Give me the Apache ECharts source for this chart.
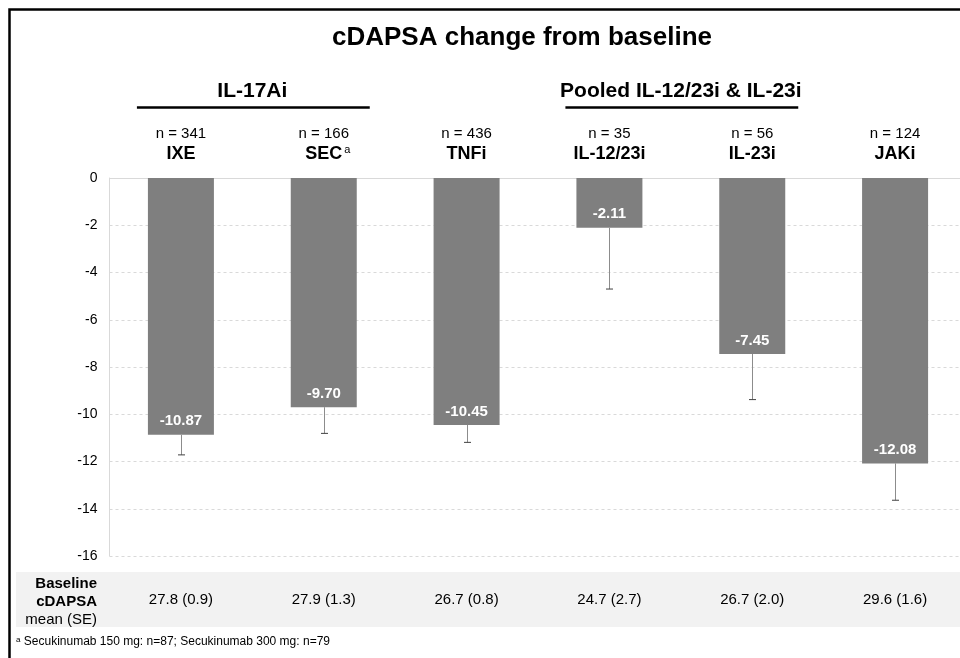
<!DOCTYPE html>
<html>
<head>
<meta charset="utf-8">
<script src="https://cdn.jsdelivr.net/npm/echarts@6/dist/echarts.min.js"></script>
<style>
  html, body { margin: 0; padding: 0; background: #fff; }
  #main { width: 960px; height: 658px; }
</style>
</head>
<body>
<div id="main"></div>
<script>
var FONT = 'Liberation Sans, Arial, sans-serif'

// data
var categories = ['IXE', 'SEC', 'TNFi', 'IL-12/23i', 'IL-23i', 'JAKi']
var sups = ['', 'a', '', '', '', '']
var nCounts = [341, 166, 436, 35, 56, 124]
var meanChange = [-10.87, -9.70, -10.45, -2.11, -7.45, -12.08]
var errorLow = [-11.72, -10.81, -11.19, -4.70, -9.38, -13.64]
var baseline = ['27.8 (0.9)', '27.9 (1.3)', '26.7 (0.8)', '24.7 (2.7)', '26.7 (2.0)', '29.6 (1.6)']
var yTicks = [0, -2, -4, -6, -8, -10, -12, -14, -16]
var groups = [
  { name: 'IL-17Ai', from: 0, to: 1 },
  { name: 'Pooled IL-12/23i & IL-23i', from: 3, to: 4 }
]

var chart = echarts.init(document.getElementById('main'))

var option = {
  animation: false,
  textStyle: { fontFamily: FONT },
  grid: { left: 109.5, width: 857, top: 178, height: 378, outerBoundsMode: 'none', containLabel: false },
  xAxis: [
    {
      type: 'category',
      position: 'top',
      data: categories,
      axisLine: { show: true, lineStyle: { color: '#d9d9d9', width: 1 } },
      axisTick: { show: false },
      axisLabel: {
        margin: 14,
        formatter: function (v, i) {
          var s = '{n|n = ' + nCounts[i] + '}\n'
          if (sups[i]) return s + '{sp|}{b|' + v + '}{sup|' + sups[i] + '}'
          return s + '{b|' + v + '}'
        },
        rich: {
          n: { fontSize: 15, color: '#000', lineHeight: 20, fontFamily: FONT },
          b: { fontSize: 18, fontWeight: 'bold', color: '#000', lineHeight: 20, fontFamily: FONT },
          sup: { fontSize: 11, color: '#000', verticalAlign: 'top', lineHeight: 20, padding: [0, 0, 6, 2], fontFamily: FONT },
          sp: { width: 8 }
        }
      }
    },
    {
      type: 'category',
      position: 'bottom',
      data: categories,
      axisLine: { show: false },
      axisTick: { show: false },
      axisLabel: {
        margin: 36,
        fontSize: 15,
        color: '#000',
        fontFamily: FONT,
        formatter: function (v, i) { return baseline[i] }
      }
    }
  ],
  yAxis: {
    type: 'value',
    min: -16,
    max: 0,
    interval: 2,
    axisLine: { show: true, lineStyle: { color: '#d9d9d9', width: 1 } },
    axisTick: { show: false },
    axisLabel: {
      margin: 12,
      fontSize: 14,
      color: '#000',
      fontFamily: FONT,
      customValues: yTicks
    },
    splitLine: { show: true, lineStyle: { color: '#d9d9d9', type: [3, 3], width: 1 } }
  },
  series: [
    {
      type: 'bar',
      xAxisIndex: 0,
      data: meanChange,
      barWidth: 66,
      itemStyle: { color: '#7f7f7f' },
      label: {
        show: true,
        position: 'insideBottom',
        distance: 6,
        color: '#fff',
        fontSize: 15,
        fontWeight: 'bold',
        fontFamily: FONT,
        formatter: function (p) { return p.value.toFixed(2) }
      },
      z: 2
    },
    {
      type: 'custom',
      xAxisIndex: 0,
      data: categories.map(function (c, i) { return [i, meanChange[i], errorLow[i]] }),
      z: 3,
      renderItem: function (params, api) {
        var top = api.coord([api.value(0), api.value(1)])
        var low = api.coord([api.value(0), api.value(2)])
        var x = Math.round(top[0]) + 0.5
        return {
          type: 'group',
          children: [
            { type: 'line', shape: { x1: x, y1: top[1], x2: x, y2: low[1] }, style: { stroke: '#8c8c8c', lineWidth: 1 } },
            { type: 'line', shape: { x1: x - 3.5, y1: low[1], x2: x + 3.5, y2: low[1] }, style: { stroke: '#404040', lineWidth: 1 } }
          ]
        }
      }
    }
  ],
  graphic: []
}

chart.setOption(option)

// decorations: frame, title, group headers, baseline band and its row label
var els = [
  { type: 'rect', z: -10, shape: { x: 16, y: 572, width: 960, height: 55 }, style: { fill: '#f2f2f2' } },
  { type: 'polyline', shape: { points: [[9.5, 660], [9.5, 9.5], [962, 9.5]] }, style: { stroke: '#000', lineWidth: 2.5, fill: null } },
  { type: 'text', x: 522, y: 38, style: { text: 'cDAPSA change from baseline', font: 'bold 26px ' + FONT, fill: '#000', align: 'center', verticalAlign: 'middle' } },
  { type: 'text', x: 97, y: 584, style: { text: 'Baseline', font: 'bold 15px ' + FONT, fill: '#000', align: 'right', verticalAlign: 'middle' } },
  { type: 'text', x: 97, y: 602, style: { text: 'cDAPSA', font: 'bold 15px ' + FONT, fill: '#000', align: 'right', verticalAlign: 'middle' } },
  { type: 'text', x: 97, y: 620, style: { text: 'mean (SE)', font: '15px ' + FONT, fill: '#000', align: 'right', verticalAlign: 'middle' } },
  {
    type: 'text', x: 16, y: 642,
    style: {
      text: '{s|a} Secukinumab 150 mg: n=87; Secukinumab 300 mg: n=79',
      font: '12px ' + FONT, fill: '#000', verticalAlign: 'middle',
      rich: { s: { fontSize: 8, verticalAlign: 'top', padding: [0, 0, 4, 0] } }
    }
  }
]

groups.forEach(function (g) {
  var x1 = chart.convertToPixel({ xAxisIndex: 0 }, categories[g.from])
  var x2 = chart.convertToPixel({ xAxisIndex: 0 }, categories[g.to])
  els.push({ type: 'text', x: (x1 + x2) / 2, y: 91, style: { text: g.name, font: 'bold 21px ' + FONT, fill: '#000', align: 'center', verticalAlign: 'middle' } })
  els.push({ type: 'line', shape: { x1: x1 - 44, y1: 107.5, x2: x2 + 46, y2: 107.5 }, style: { stroke: '#000', lineWidth: 2.5 } })
})

chart.setOption({ graphic: els })
</script>
</body>
</html>
